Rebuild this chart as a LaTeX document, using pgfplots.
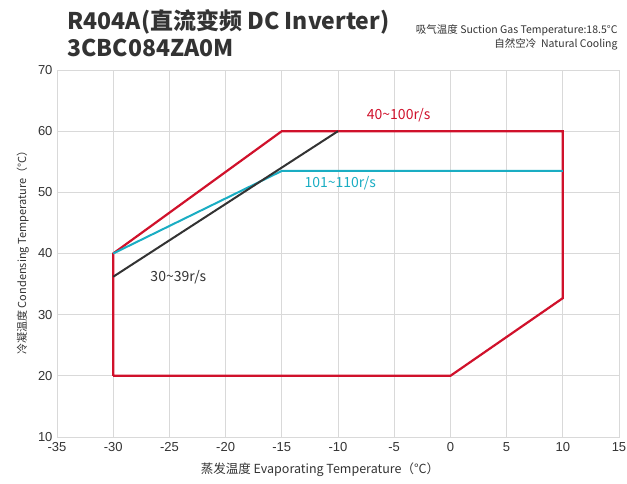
\documentclass[border=0pt]{standalone}
\usepackage{pgfplots}
\pgfplotsset{compat=1.18}
\usepackage{fontspec}
\setmainfont{Noto Sans CJK SC}
\newfontfamily\arialf{Liberation Sans}
\definecolor{envred}{HTML}{D0112B}
\definecolor{envcyan}{HTML}{1AADC3}
\definecolor{envblack}{HTML}{333333}
\definecolor{txtgray}{HTML}{333333}
\definecolor{gridgray}{HTML}{D9D9D9}
\begin{document}
\begin{tikzpicture}
\useasboundingbox (0,0) rectangle (627pt,483pt);
\begin{axis}[
    at={(57pt,46pt)}, anchor=south west,
    scale only axis,
    width=562pt, height=367pt,
    xmin=-35, xmax=15, ymin=10, ymax=70,
    xtick={-35,-30,...,15},
    ytick={10,20,...,70},
    grid=major,
    grid style={gridgray, line width=0.8pt},
    axis line style={gridgray, line width=0.8pt},
    major tick length=0pt,
    /pgf/number format/assume math mode=true,
    tick label style={font=\arialf\fontsize{13}{13}\selectfont, text=txtgray},
    xticklabel style={yshift=-2pt},
    yticklabel style={xshift=-1pt},
    clip=false,
]
% 40~100r/s envelope
\addplot[envred, line width=2.2pt, line join=miter] coordinates {
    (-30,20) (-30,40) (-15,60) (10,60) (10,32.7) (0,20) (-30,20) };
% 101~110r/s
\addplot[envcyan, line width=2pt] coordinates {
    (-30,40) (-15,53.5) (10,53.5) };
% 30~39r/s
\addplot[envblack, line width=2pt] coordinates {
    (-30,36.2) (-10,60) };
\node[envred, font=\fontsize{14}{14}\selectfont] at (axis cs:-4.6,62.6) {40\textasciitilde100r/s};
\node[envcyan, font=\fontsize{14}{14}\selectfont] at (axis cs:-9.8,51.5) {101\textasciitilde110r/s};
\node[envblack, font=\fontsize{14}{14}\selectfont] at (axis cs:-24.2,36.2) {30\textasciitilde39r/s};
\end{axis}
\node[anchor=base west, text=txtgray, font=\bfseries\fontsize{23}{23}\selectfont] at (64pt,453pt) {R404A(直流变频 DC Inverter)};
\node[anchor=base west, text=txtgray, font=\bfseries\fontsize{23}{23}\selectfont] at (64pt,426pt) {3CBC084ZA0M};
\node[anchor=base east, text=txtgray, font=\fontsize{10.5}{10.5}\selectfont] at (621pt,449pt) {吸气温度 Suction Gas Temperature:18.5°C};
\node[anchor=base east, text=txtgray, font=\fontsize{10.5}{10.5}\selectfont] at (621pt,435pt) {自然空冷\ \ Natural Cooling};
\node[anchor=base, text=txtgray, font=\fontsize{12.5}{12.5}\selectfont] at (320pt,10pt) {蒸发温度 Evaporating Temperature（°C）};
\node[anchor=base, rotate=90, text=txtgray, font=\fontsize{11}{11}\selectfont] at (26pt,233pt) {冷凝温度 Condensing Temperature（°C）};
\end{tikzpicture}
\end{document}
